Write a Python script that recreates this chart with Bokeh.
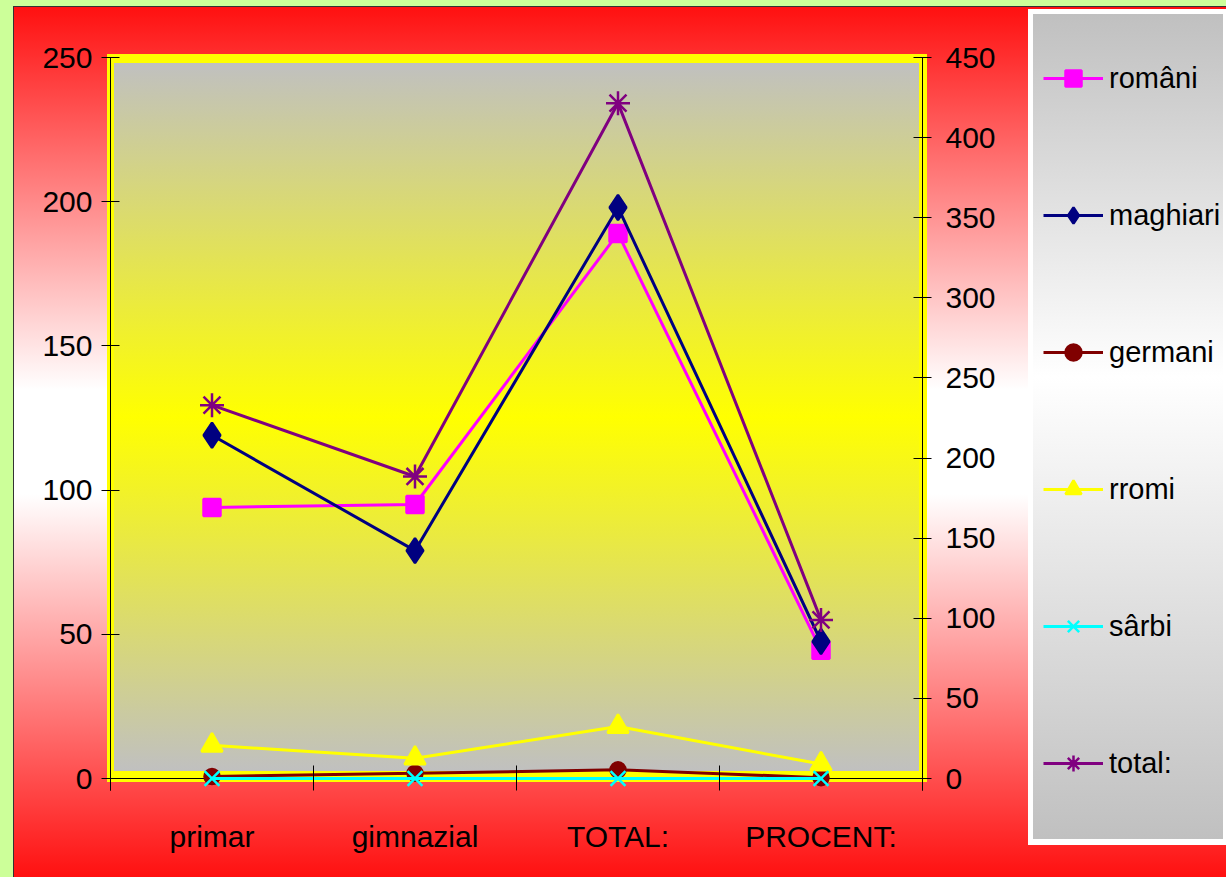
from bokeh.plotting import figure
from bokeh.models import Range1d, LinearAxis, FixedTicker, Legend, LegendItem, Span
from bokeh.layouts import row
from bokeh.embed import file_html
from bokeh.resources import INLINE

# ---- data ----
categories = ["primar", "gimnazial", "TOTAL:", "PROCENT:"]
romani = [94, 95, 189, 44.5]
maghiari = [119, 79, 198, 47.5]
germani = [0.7, 1.8, 3, 0.3]
rromi = [11.5, 7, 18, 5]
sarbi = [0, 0, 0, 0]
total = [233, 188.5, 421.5, 99]          # on secondary (right) axis
left_ticks = [0, 50, 100, 150, 200, 250]
right_ticks = [0, 50, 100, 150, 200, 250, 300, 350, 400, 450]

xpos = list(range(len(categories)))
boundaries = [i - 0.5 for i in range(len(categories) + 1)]

FONT = "Liberation Sans"
FS = "30px"
H = 877

bg_main = ", ".join([
    "linear-gradient(#c0c0c0 0%, #ffff00 50%, #c0c0c0 100%) 114px 63px / 805px 708px no-repeat",
    "linear-gradient(#ffff00, #ffff00) 107px 54px / 820px 728px no-repeat",
    "linear-gradient(#ff1010 0%, #ffffff 44%, #ffffff 56%, #ff1010 100%) 14px 7px / 1300px 870px no-repeat",
    "linear-gradient(#333333, #333333) 13px 6px / 1300px 871px no-repeat",
    "#ccff99",
])
bg_leg = ", ".join([
    "linear-gradient(#c0c0c0 0%, #ffffff 44%, #c0c0c0 100%) 5px 14px / 190px 825px no-repeat",
    "linear-gradient(#ffffff, #ffffff) 0px 9px / 198px 836px no-repeat",
    "linear-gradient(#ff1010 0%, #ffffff 44%, #ffffff 56%, #ff1010 100%) 0px 7px / 198px 870px no-repeat",
    "linear-gradient(#333333, #333333) 0px 6px / 198px 871px no-repeat",
    "#ccff99",
])

# frame extends 12px below the zero line so that markers at 0 are not clipped
L_MAX, R_MAX = 250, 450
below = 12 / (721 / L_MAX)

p = figure(width=1028, height=H, output_backend="svg", toolbar_location=None,
           x_range=Range1d(-0.5, 3.5), y_range=Range1d(-below, L_MAX),
           min_border_left=110, min_border_right=106, min_border_top=57, min_border_bottom=87,
           background_fill_color=None, border_fill_color=None, outline_line_color=None,
           x_axis_location=None, y_axis_location=None, styles={"background": bg_main})
p.extra_y_ranges = {"right": Range1d(-below * R_MAX / L_MAX, R_MAX)}
p.xgrid.visible = False
p.ygrid.visible = False


def style_axis(ax):
    ax.axis_line_color = "black"
    ax.axis_line_width = 1
    ax.major_tick_line_color = "black"
    ax.minor_tick_line_color = None
    ax.major_label_text_font = FONT
    ax.major_label_text_font_size = FS
    ax.major_label_text_color = "black"


yl = LinearAxis(ticker=FixedTicker(ticks=left_ticks))
style_axis(yl)
yl.major_tick_in = 9
yl.major_tick_out = 9
yl.major_label_standoff = 9
p.add_layout(yl, "left")

yr = LinearAxis(y_range_name="right", ticker=FixedTicker(ticks=right_ticks))
style_axis(yr)
yr.major_tick_in = 9
yr.major_tick_out = 9
yr.major_label_standoff = 14
p.add_layout(yr, "right")

xa = LinearAxis(ticker=FixedTicker(ticks=xpos, minor_ticks=boundaries),
                major_label_overrides={i: c for i, c in enumerate(categories)})
style_axis(xa)
xa.axis_line_color = None
xa.major_tick_line_color = None
xa.major_tick_in = 0
xa.major_tick_out = 0
xa.minor_tick_line_color = "black"
xa.minor_tick_in = 25
xa.minor_tick_out = 0
xa.major_label_standoff = 29
p.add_layout(xa, "below")

p.add_layout(Span(location=0, dimension="width", line_color="black", line_width=1,
                  level="underlay"))

series = [
    ("români", romani, "#ff00ff", "square", 17, "default"),
    ("maghiari", maghiari, "#000080", "diamond", 25, "default"),
    ("germani", germani, "#800000", "circle", 15, "default"),
    ("rromi", rromi, "#ffff00", "triangle", 21, "default"),
    ("sârbi", sarbi, "#00ffff", "x", 21, "default"),
    ("total:", total, "#800080", "asterisk", 24, "right"),
]

# legend lives in its own narrow figure to the right (same series, out of view there)
pl = figure(width=198, height=H, output_backend="svg", toolbar_location=None,
            x_range=Range1d(100, 101), y_range=Range1d(1000, 1001),
            min_border_left=0, min_border_right=0, min_border_top=0, min_border_bottom=0,
            background_fill_color=None, border_fill_color=None, outline_line_color=None,
            x_axis_location=None, y_axis_location=None, styles={"background": bg_leg})
pl.xgrid.visible = False
pl.ygrid.visible = False

items = []
for name, vals, color, marker, size, rng in series:
    p.line(xpos, vals, line_color=color, line_width=3, y_range_name=rng)
    p.scatter(xpos, vals, marker=marker, size=size, fill_color=color,
              line_color=color, line_width=2.5, y_range_name=rng)
    lr = pl.line(xpos, vals, line_color=color, line_width=3)
    sr = pl.scatter(xpos, vals, marker=marker, size=size, fill_color=color,
                    line_color=color, line_width=2.5)
    items.append(LegendItem(label=name, renderers=[lr, sr]))

leg = Legend(items=items, location=(15, 7), orientation="vertical",
             padding=0, margin=0, spacing=97, glyph_width=60, glyph_height=40,
             label_height=40, label_standoff=6, label_text_font=FONT,
             label_text_font_size="29px", label_text_color="black",
             border_line_color=None, background_fill_color=None)
pl.add_layout(leg, "center")

layout = row(p, pl, spacing=0)
open("out.html", "w").write(file_html(layout, INLINE))
